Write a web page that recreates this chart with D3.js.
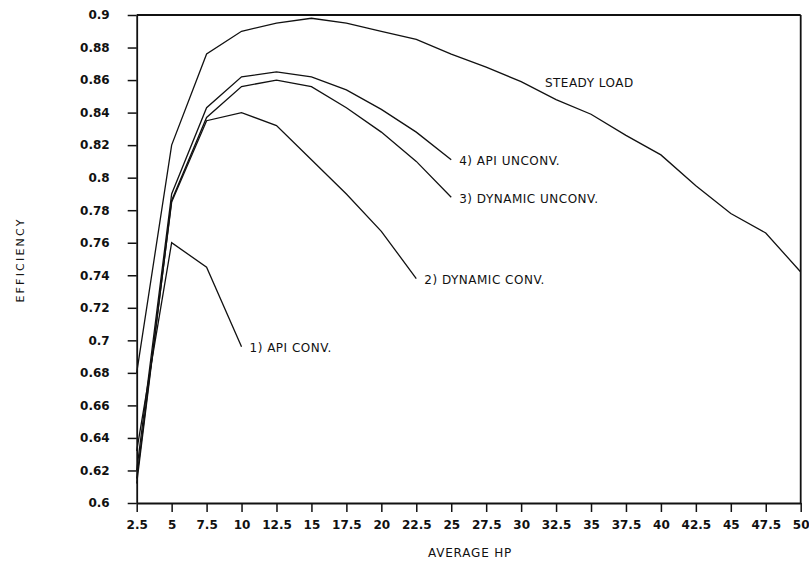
<!DOCTYPE html>
<html>
<head>
<meta charset="utf-8">
<script src="https://cdn.jsdelivr.net/npm/d3@7/dist/d3.min.js"></script>
<style>
  html, body { margin: 0; padding: 0; background: #fff; }
  svg { display: block; }
  text { font-family: "DejaVu Sans", "Liberation Sans", Arial, sans-serif; fill: #111; }
</style>
</head>
<body>
<svg id="chart" width="809" height="567"></svg>
<script>
// ---- data ----
const xTicks = [2.5,5,7.5,10,12.5,15,17.5,20,22.5,25,27.5,30,32.5,35,37.5,40,42.5,45,47.5,50];
const yTicks = [0.6,0.62,0.64,0.66,0.68,0.7,0.72,0.74,0.76,0.78,0.8,0.82,0.84,0.86,0.88,0.9];

const steadyX = [2.5,5,7.5,10,12.5,15,17.5,20,22.5,25,27.5,30,32.5,35,37.5,40,42.5,45,47.5,50];
const steadyY = [0.68,0.82,0.876,0.890,0.895,0.898,0.895,0.890,0.885,0.876,0.868,0.859,0.848,0.839,0.826,0.814,0.795,0.778,0.766,0.742];

const apiUnconvX = [2.5,5,7.5,10,12.5,15,17.5,20,22.5,25];
const apiUnconvY = [0.62,0.790,0.843,0.862,0.865,0.862,0.854,0.842,0.828,0.811];

const dynUnconvX = [2.5,5,7.5,10,12.5,15,17.5,20,22.5,25];
const dynUnconvY = [0.612,0.786,0.837,0.856,0.860,0.856,0.843,0.828,0.810,0.788];

const dynConvX = [2.5,5,7.5,10,12.5,15,17.5,20,22.5];
const dynConvY = [0.615,0.785,0.835,0.840,0.832,0.811,0.790,0.767,0.738];

const apiConvX = [2.5,5,7.5,10];
const apiConvY = [0.632,0.760,0.745,0.696];

const seriesNames = ["STEADY LOAD","4) API UNCONV.","3) DYNAMIC UNCONV.","2) DYNAMIC CONV.","1) API CONV."];
const xTitle = "AVERAGE HP";
const yTitle = "EFFICIENCY";

// ---- layout ----
const mLeft = 136.7, mRight = 800.7, mTop = 15, mBottom = 503;
const svg = d3.select("#chart");
const x = d3.scaleLinear().domain([2.5, 50]).range([mLeft, mRight]);
const y = d3.scaleLinear().domain([0.6, 0.9]).range([mBottom, mTop]);

const fmtX = d => String(d);
const fmtY = d => String(+d.toFixed(2));

// axes
const gx = svg.append("g").attr("transform", `translate(0,${mBottom})`)
  .call(d3.axisBottom(x).tickValues(xTicks).tickFormat(fmtX).tickSizeInner(9).tickSizeOuter(0).tickPadding(8));
const gy = svg.append("g").attr("transform", `translate(${mLeft},0)`)
  .call(d3.axisLeft(y).tickValues(yTicks).tickFormat(fmtY).tickSizeInner(9).tickSizeOuter(0).tickPadding(18));
[gx, gy].forEach(g => {
  g.select(".domain").attr("stroke", "#111").attr("stroke-width", 1.8);
  g.selectAll(".tick line").attr("stroke", "#111").attr("stroke-width", 1.5);
  g.selectAll(".tick text").attr("font-size", 12).attr("fill", "#111")
    .style("font-family", "'DejaVu Sans', Arial, sans-serif").style("font-weight", "bold");
});

// frame top and right
svg.append("line").attr("x1", x(2.5)).attr("x2", x(50)).attr("y1", y(0.9)).attr("y2", y(0.9))
  .attr("stroke", "#111").attr("stroke-width", 1.8);
svg.append("line").attr("x1", x(50)).attr("x2", x(50)).attr("y1", y(0.9)).attr("y2", y(0.6))
  .attr("stroke", "#111").attr("stroke-width", 1.8);

// lines
const line = d3.line().x(d => x(d[0])).y(d => y(d[1]));
const series = [
  [steadyX, steadyY],
  [apiUnconvX, apiUnconvY],
  [dynUnconvX, dynUnconvY],
  [dynConvX, dynConvY],
  [apiConvX, apiConvY]
];
series.forEach(([xs, ys]) => {
  svg.append("path").datum(xs.map((v, i) => [v, ys[i]]))
    .attr("d", line).attr("fill", "none").attr("stroke", "#111").attr("stroke-width", 1.3);
});

// labels
const lab = (txt, px, py) => svg.append("text").attr("x", px).attr("y", py)
  .attr("font-size", 12).attr("letter-spacing", 0.5).attr("dominant-baseline", "middle").text(txt);
lab(seriesNames[0], x(31.7), y(0.858));
[1,2,3,4].forEach(k => {
  const [xs, ys] = series[k];
  const n = xs.length - 1;
  lab(seriesNames[k], x(xs[n]) + 8, y(ys[n]) + 2);
});

// axis titles
svg.append("text").attr("x", 470).attr("y", 557).attr("text-anchor", "middle")
  .attr("font-size", 12).attr("letter-spacing", 0.8).text(xTitle);
svg.append("text").attr("transform", "translate(24,260) rotate(-90)").attr("text-anchor", "middle")
  .attr("font-size", 11).attr("letter-spacing", 2.2).text(yTitle);
</script>
</body>
</html>
